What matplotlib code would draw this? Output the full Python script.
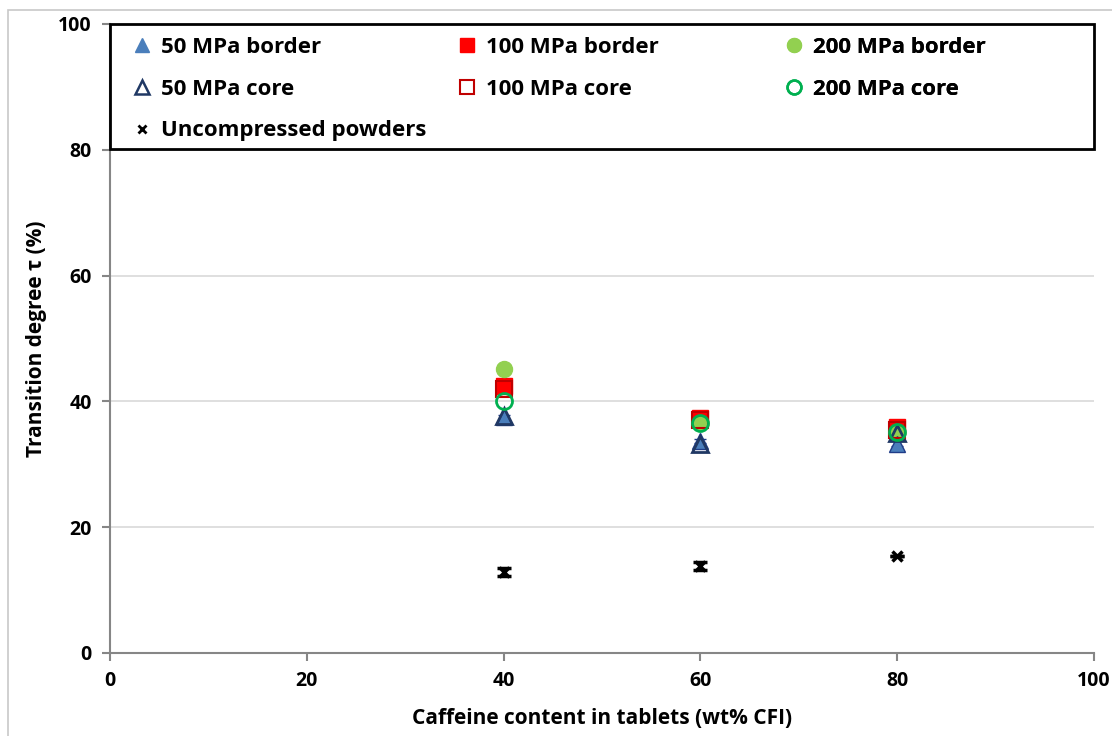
import matplotlib.pyplot as plt
from matplotlib.lines import Line2D
from matplotlib.patches import Rectangle

plt.rcParams['font.family'] = ['Open Sans', 'DejaVu Sans']
plt.rcParams['font.weight'] = 'bold'

# Caffeine content (wt% CFI)
caffeine = [40, 60, 80]

# Transition degree (%)
border_50 = [37.5, 33.7, 33.3]
core_50 = [37.6, 33.2, 35.0]
border_100 = [42.4, 37.4, 36.0]
core_100 = [42.0, 37.0, 35.5]
border_200 = [45.2, 36.6, 35.0]
core_200 = [40.1, 36.6, 35.2]
uncompressed = [12.9, 13.8, 15.4]
uncompressed_err = [0.6, 0.6, 0.0]

fig = plt.figure(figsize=(11.12, 7.36), dpi=100)
ax = fig.add_axes([0.0989, 0.1128, 0.8849, 0.8546])

# faint outer frame of the chart area
fig.patches.append(Rectangle((8 / 1112, -0.1), 1.2, (736 - 10) / 736 + 0.1,
                             transform=fig.transFigure, fill=False,
                             edgecolor='#c8c8c8', linewidth=1.2))

ax.errorbar(caffeine, border_50, yerr=[0.3, 0.3, 0.4], fmt='^', ms=11,
            mfc='#4a7ebb', mec='#1f3c88', mew=1.0,
            ecolor='#1f3c88', capsize=4, zorder=3)
ax.plot(caffeine, border_100, 's', ms=11, mfc='#ff0000', mec='#ff0000', zorder=3)
ax.plot(caffeine, border_200, 'o', ms=11.5, mfc='#92d050', mec='#92d050', zorder=3)
ax.plot(caffeine, core_50, '^', ms=11, mfc='none', mec='#203864', mew=2, zorder=4)
ax.plot(caffeine, core_100, 's', ms=11, mfc='none', mec='#c00000', mew=1.5, zorder=4)
ax.plot(caffeine, core_200, 'o', ms=11.5, mfc='none', mec='#00b050', mew=2, zorder=5)
ax.errorbar(caffeine, uncompressed, yerr=uncompressed_err, fmt='x', ms=7,
            color='black', mew=2.5, ecolor='black', elinewidth=1.5,
            capsize=5, capthick=2.5, zorder=4)

ax.set_xlim(0, 100)
ax.set_ylim(0, 100)
ax.set_xticks(range(0, 101, 20))
ax.set_yticks(range(0, 101, 20))
ax.grid(axis='y', color='#d9d9d9', linewidth=1.2)
ax.set_axisbelow(True)
for s in ['top', 'right']:
    ax.spines[s].set_visible(False)
for s in ['left', 'bottom']:
    ax.spines[s].set_color('#868686')
    ax.spines[s].set_linewidth(1.5)
ax.tick_params(colors='#868686', labelcolor='black', length=6, width=1.5,
               labelsize=14, pad=7)
for lbl in ax.get_xticklabels() + ax.get_yticklabels():
    lbl.set_fontweight('bold')

ax.set_xlabel('Caffeine content in tablets (wt% CFI)', fontsize=15,
              fontweight='bold', labelpad=12)
ax.set_ylabel('Transition degree τ (%)', fontsize=15, fontweight='bold',
              labelpad=8)

# legend: framed box across the top with three columns
box = Rectangle((0, 0.802), 1, 0.198, transform=ax.transAxes, facecolor='white',
                edgecolor='black', linewidth=2, zorder=8, clip_on=False)
ax.add_patch(box)

def mk(marker, ms, fc, ec, mew=1.0):
    return Line2D([], [], ls='none', marker=marker, ms=ms, mfc=fc, mec=ec, mew=mew)

columns = [
    ([mk('^', 10, '#4a7ebb', '#4a7ebb'), mk('^', 10, 'none', '#203864', 1.8),
      mk('x', 6, 'black', 'black', 2)],
     ['50 MPa border', '50 MPa core', 'Uncompressed powders']),
    ([mk('s', 10, '#ff0000', '#ff0000'), mk('s', 10, 'none', '#c00000', 1.5)],
     ['100 MPa border', '100 MPa core']),
    ([mk('o', 10, '#92d050', '#92d050'), mk('o', 10, 'none', '#00b050', 1.8)],
     ['200 MPa border', '200 MPa core']),
]
col_x = [0.012, 0.343, 0.675]
for (hs, ls), x0 in zip(columns, col_x):
    leg = ax.legend(hs, ls, loc='upper left', bbox_to_anchor=(x0, 0.99),
                    frameon=False, borderaxespad=0, borderpad=0.3,
                    labelspacing=0.93, handletextpad=0.25, handlelength=1.2,
                    prop={'weight': 'bold', 'size': 16})
    leg.set_zorder(10)
    ax.add_artist(leg)

fig.savefig('out.png', dpi=100)
